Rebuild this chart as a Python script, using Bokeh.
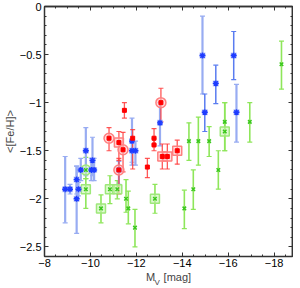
import numpy as np
from bokeh.plotting import figure
from bokeh.models import (Range1d, LinearAxis, ColumnDataSource, Whisker, TeeHead,
                          Label, FixedTicker)
from bokeh.embed import file_html
from bokeh.resources import INLINE

# ---------------- data ----------------
# blue series (asterisks)
blue_mv = [-8.90, -9.11, -9.40, -9.40, -9.48, -9.58, -9.80, -10.09, -10.04, -10.16,
           -11.24, -11.81, -11.81, -11.96, -13.03, -14.88, -15.46, -16.24, -14.98, -16.36]
blue_feh = [-1.90, -1.90, -1.80, -2.00, -1.90, -1.70, -1.50, -1.60, -1.70, -1.70,
            -1.70, -1.40, -1.50, -1.50, -1.21, -0.51, -0.80, -0.51, -1.10, -1.10]
blue_lo = [-2.25, -1.95, -1.95, -2.36, -1.97, -1.81, -1.76, -1.76, -1.81, -1.81,
           -1.85, -1.65, -1.62, -1.65, -1.45, -0.91, -1.01, -0.76, -1.30, -1.41]
blue_hi = [-1.56, -1.85, -1.66, -1.66, -1.83, -1.58, -1.26, -1.36, -1.58, -1.58,
           -1.61, -1.16, -1.40, -1.40, -1.00, -0.10, -0.61, -0.26, -0.91, -0.81]
blue_shade = ["L", "L", "L", "L", "L", "L", "L", "L", "L", "L",
              "L", "L", "L", "L", "L", "L", "D", "D", "D", "L"]

# red series (filled squares)
red_mv = [-10.81, -11.24, -11.42, -11.48, -11.24, -11.84, -12.48, -12.77, -12.77,
          -13.07, -13.13, -13.35, -13.78]
red_feh = [-1.37, -1.415, -1.49, -1.08, -1.70, -1.37, -1.67, -1.37, -1.44,
           -1.00, -1.56, -1.56, -1.50]
red_lo = [-1.50, -1.60, -1.72, -1.16, -1.95, -1.69, -1.78, -1.44, -1.50,
          -1.20, -1.69, -1.69, -1.64]
red_hi = [-1.26, -1.30, -1.31, -1.00, -1.58, -1.28, -1.58, -1.27, -1.37,
          -0.85, -1.43, -1.43, -1.39]
red_ring = ["o", "s", "o", "", "o", "", "", "", "", "o", "s", "s", "s"]

# green series (crosses)
green_mv = [-9.80, -9.80, -10.46, -10.85, -11.17, -11.55, -11.65, -11.94, -12.81,
            -14.09, -14.48, -15.57, -14.29, -14.70, -15.17, -15.85, -15.85, -16.94, -18.32]
green_feh = [-1.70, -1.90, -2.10, -1.90, -1.90, -2.00, -2.10, -2.30, -2.00,
             -2.10, -1.90, -1.70, -1.40, -1.40, -1.40, -1.20, -1.30, -1.20, -0.60]
green_lo = [-1.79, -2.10, -2.25, -2.05, -2.00, -2.14, -2.26, -2.50, -2.15,
            -2.31, -2.11, -1.90, -1.60, -1.65, -1.56, -1.50, -1.50, -1.41, -0.86]
green_hi = [-1.57, -1.79, -1.96, -1.76, -1.81, -1.80, -1.92, -2.11, -1.85,
            -1.91, -1.70, -1.50, -1.21, -1.15, -1.25, -1.00, -1.00, -1.00, -0.36]
green_ring = ["o", "s", "s", "s", "s", "", "", "", "s",
              "", "", "", "", "", "", "", "s", "", ""]

x_ticks = [-8, -10, -12, -14, -16, -18]
x_tick_labels = ["\u22128", "\u221210", "\u221212", "\u221214", "\u221216", "\u221218"]
y_ticks = [0, -0.5, -1, -1.5, -2, -2.5]
y_tick_labels = ["0", "\u22120.5", "\u22121", "\u22121.5", "\u22122", "\u22122.5"]

# ---------------- figure ----------------
FONT = "Liberation Sans"
W, H = 293, 294
p = figure(width=W, height=H, x_range=Range1d(-8, -18.8), y_range=Range1d(-2.6, 0),
           output_backend="svg", toolbar_location=None,
           min_border_top=6, min_border_right=1, min_border_left=0, min_border_bottom=0)
p.xgrid.visible = False
p.ygrid.visible = False
p.outline_line_color = "#333333"
p.background_fill_color = "white"
p.border_fill_color = "white"

x_minor = list(np.arange(-8, -19.0, -0.5))
y_minor = list(np.round(np.arange(0, -2.65, -0.1), 2))
AX_COL = "#333333"


def base_style(ax):
    ax.major_tick_out = 0
    ax.minor_tick_out = 0
    ax.axis_line_color = AX_COL
    ax.axis_line_width = 1.5
    ax.major_tick_line_color = AX_COL
    ax.minor_tick_line_color = AX_COL
    ax.major_label_text_font = FONT


# labelled axes (bottom, left)
for ax, ticks, labels, minor in [(p.xaxis[0], x_ticks, x_tick_labels, x_minor),
                                  (p.yaxis[0], y_ticks, y_tick_labels, y_minor)]:
    base_style(ax)
    ax.ticker = FixedTicker(ticks=ticks, minor_ticks=minor)
    ax.major_tick_in = 4
    ax.minor_tick_in = 2
    ax.major_label_overrides = {t: l for t, l in zip(ticks, labels)}
    ax.major_label_text_font_size = "11px"
    ax.major_label_text_color = "black"
    ax.major_label_standoff = 3

p.xaxis[0].major_label_standoff = 2
p.xaxis[0].axis_label = "M\u2002 [mag]"
p.xaxis[0].axis_label_text_font = FONT
p.xaxis[0].axis_label_text_font_style = "normal"
p.xaxis[0].axis_label_text_font_size = "11px"
p.xaxis[0].axis_label_standoff = 1
p.yaxis[0].axis_label = "<[Fe/H]>"
p.yaxis[0].axis_label_text_font = FONT
p.yaxis[0].axis_label_text_font_style = "normal"
p.yaxis[0].axis_label_text_font_size = "11px"
p.yaxis[0].axis_label_standoff = 1

# mirrored tick marks (top, right) without labels: ticks drawn as "minor" ticks only
for side, ticks, minor in [("above", x_ticks, x_minor), ("right", y_ticks, y_minor)]:
    for tick_list, length in [(ticks, 4), (minor, 2)]:
        ax = LinearAxis(ticker=FixedTicker(ticks=[], minor_ticks=tick_list), axis_label=None)
        base_style(ax)
        ax.major_tick_in = 0
        ax.minor_tick_in = length
        ax.major_label_standoff = 0
        p.add_layout(ax, side)

# subscript V of the x-axis label, in a small panel just below the axis
p.add_layout(Label(x=110, y=8, x_units="screen", y_units="screen", text="V",
                   text_font=FONT, text_font_size="8px", text_baseline="bottom"), "below")

# ---------------- sources ----------------
bsrc = ColumnDataSource(dict(x=blue_mv, y=blue_feh, lo=blue_lo, hi=blue_hi, s=blue_shade))
rsrc = ColumnDataSource(dict(x=red_mv, y=red_feh, lo=red_lo, hi=red_hi, r=red_ring))
gsrc = ColumnDataSource(dict(x=green_mv, y=green_feh, lo=green_lo, hi=green_hi, r=green_ring))


def subset(src, key, val):
    d = src.data
    idx = [i for i, v in enumerate(d[key]) if v == val]
    return ColumnDataSource({k: [d[k][i] for i in idx] for k in d})


def whisker(src, color, lw, alpha=1.0):
    w = Whisker(source=src, base="x", upper="hi", lower="lo", dimension="height",
                line_color=color, line_width=lw, line_alpha=alpha,
                upper_head=TeeHead(size=5, line_color=color, line_width=1.2, line_alpha=alpha),
                lower_head=TeeHead(size=5, line_color=color, line_width=1.2, line_alpha=alpha))
    p.add_layout(w)


# green
whisker(gsrc, "#8ee65a", 1.6)
gs = subset(gsrc, "r", "s")
go = subset(gsrc, "r", "o")
p.scatter("x", "y", source=gs, marker="square", size=9, fill_color="#c8f5b0",
          fill_alpha=0.6, line_color="#9ee87a", line_width=1.5)
p.scatter("x", "y", source=go, marker="circle", size=10, fill_color="#c8f5b0",
          fill_alpha=0.6, line_color="#9ee87a", line_width=1.5)
p.scatter("x", "y", source=gsrc, marker="x", size=5, line_color="#3cc81e", line_width=1.5)

# blue
bl = subset(bsrc, "s", "L")
bd = subset(bsrc, "s", "D")
whisker(bl, "#98acf2", 2.2)
whisker(bd, "#5a7cf0", 1.5)
p.scatter("x", "y", source=bsrc, marker="square", size=6, fill_color="#a8b8f5",
          fill_alpha=0.7, line_color=None)
p.scatter("x", "y", source=bsrc, marker="asterisk", size=6, line_color="#1e3cff",
          line_width=1.4)

# red
whisker(rsrc, "#ff3a3a", 1.3, 0.85)
rs = subset(rsrc, "r", "s")
ro = subset(rsrc, "r", "o")
p.scatter("x", "y", source=rs, marker="square", size=9, fill_color="#ffc0c0",
          fill_alpha=0.5, line_color="#ff8080", line_width=1.5)
p.scatter("x", "y", source=ro, marker="circle", size=10, fill_color="#ffc0c0",
          fill_alpha=0.5, line_color="#ff8080", line_width=1.5)
p.scatter("x", "y", source=rsrc, marker="square", size=4, fill_color="#ff0000",
          line_color="#ff0000")

open("out.html", "w").write(file_html(p, INLINE))
